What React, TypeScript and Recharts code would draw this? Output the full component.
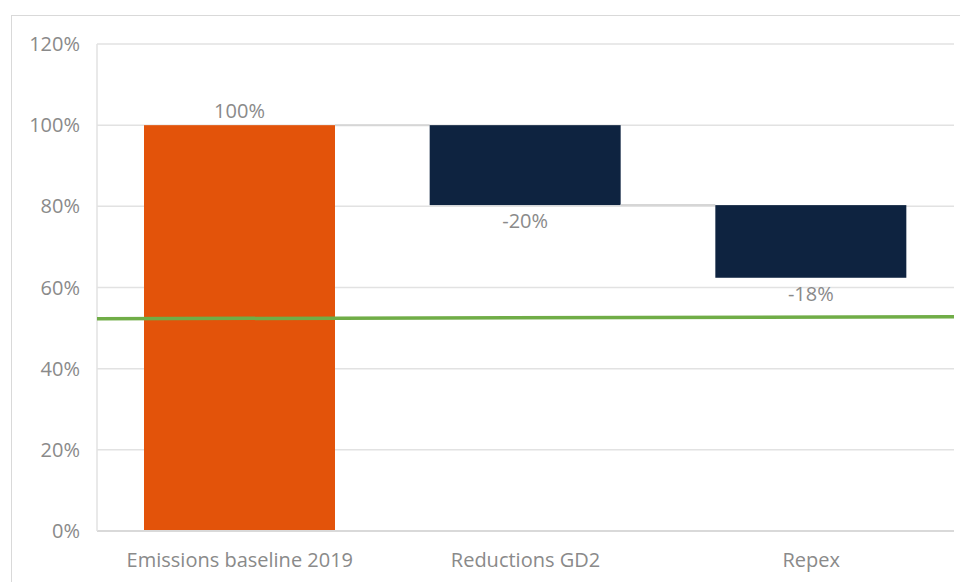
import React from "react";
import {
  ComposedChart,
  Bar,
  XAxis,
  YAxis,
  CartesianGrid,
  Scatter,
} from "recharts";

const categories = ["Emissions baseline 2019", "Reductions GD2", "Repex"];
const changes = [100, -19.7, -17.9];
const valueLabels = ["100%", "-20%", "-18%"];
const yTicks = [0, 20, 40, 60, 80, 100, 120];
const targetLine = [
  { x: 0, y: 52.3 },
  { x: 1, y: 52.8 },
];

const W = 960;
const H = 582;
const margin = { top: 44, right: 6, bottom: 0, left: 0 };
const yAxisWidth = 97;
const font = "'Open Sans', Lato, sans-serif";
const textGray = "#8a8a8a";

// running totals -> invisible base + visible step for the waterfall
let running = 0;
const rows = categories.map((name, i) => {
  const start = running;
  running += changes[i];
  return {
    name,
    base: Math.min(start, running),
    step: Math.abs(changes[i]),
    change: changes[i],
    label: valueLabels[i],
  };
});

const plotW = W - margin.left - margin.right - yAxisWidth;
const bandStep = plotW / categories.length;

function StepShape(props: any) {
  const { x, y, width, height, index, fill } = props;
  const up = changes[index] >= 0;
  const endY = up ? y : y + height;
  return (
    <g>
      <rect x={x} y={y} width={width} height={height} fill={fill} />
      {index < categories.length - 1 && (
        <line
          x1={x + width}
          x2={x + bandStep}
          y1={endY}
          y2={endY}
          stroke="#d6d6d6"
          strokeWidth={2}
        />
      )}
      <text
        x={x + width / 2}
        y={up ? y - 7 : y + height + 23}
        textAnchor="middle"
        fill={textGray}
        fontSize={20}
        fontFamily={font}
      >
        {rows[index].label}
      </text>
    </g>
  );
}

export default function App() {
  return (
    <div
      style={{
        position: "absolute",
        left: 0,
        top: 0,
        width: W,
        height: H,
        overflow: "hidden",
        background: "#fff",
      }}
    >
      <div
        style={{
          position: "absolute",
          left: 11,
          top: 15,
          width: W,
          height: H,
          border: "1px solid #d9d9d9",
        }}
      />
      <div style={{ position: "absolute", left: 0, top: 0 }}>
        <ComposedChart width={W} height={H} data={rows} margin={margin}>
          <CartesianGrid
            yAxisId="main"
            xAxisId="cat"
            vertical={false}
            stroke="#e2e2e2"
            strokeWidth={1.5}
          />
          <XAxis
            xAxisId="cat"
            dataKey="name"
            height={51}
            tickLine={false}
            axisLine={{ stroke: "#d9d9d9", strokeWidth: 2 }}
            tickMargin={16}
            tick={{ fill: textGray, fontSize: 20, fontFamily: font }}
            interval={0}
          />
          <XAxis
            xAxisId="num"
            type="number"
            dataKey="x"
            domain={[0, 1]}
            allowDataOverflow
            hide
          />
          <YAxis
            yAxisId="main"
            width={yAxisWidth}
            domain={[0, 120]}
            ticks={yTicks}
            tickFormatter={(v) => `${v}%`}
            tickLine={false}
            axisLine={{ stroke: "#e2e2e2", strokeWidth: 1.5 }}
            tickMargin={11}
            tick={{ fill: textGray, fontSize: 20, fontFamily: font }}
          />
          <YAxis
            yAxisId="num"
            dataKey="y"
            domain={[0, 120]}
            allowDataOverflow
            hide
          />
          <Bar
            xAxisId="cat"
            yAxisId="main"
            dataKey="base"
            stackId="w"
            fill="transparent"
            barSize={191}
            isAnimationActive={false}
          />
          <Bar
            xAxisId="cat"
            yAxisId="main"
            dataKey="step"
            stackId="w"
            barSize={191}
            shape={(p: any) => (
              <StepShape
                {...p}
                fill={rows[p.index].change >= 0 ? "#E3530A" : "#0E2340"}
              />
            )}
            isAnimationActive={false}
          />
          <Scatter
            xAxisId="num"
            yAxisId="num"
            data={targetLine}
            line={{ stroke: "#70AD47", strokeWidth: 3.5 }}
            shape={() => <g />}
            isAnimationActive={false}
          />
        </ComposedChart>
      </div>
    </div>
  );
}
